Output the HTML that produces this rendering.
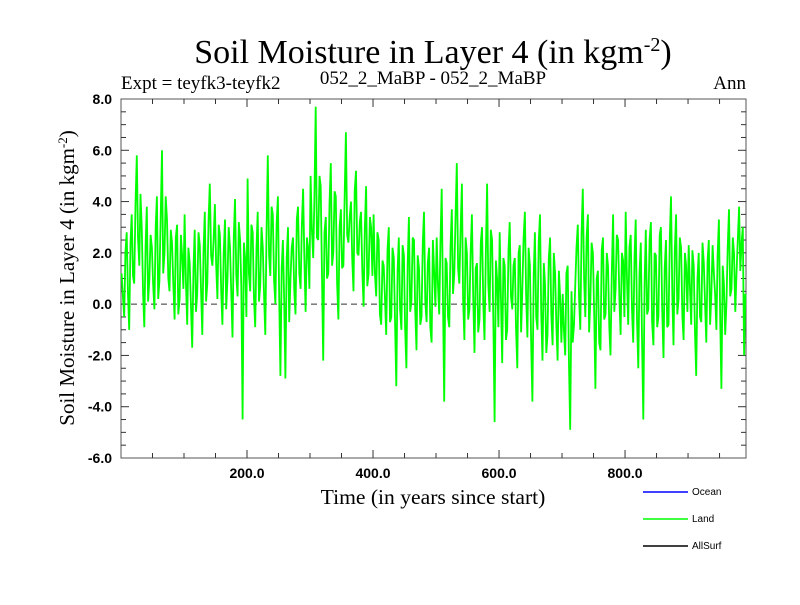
<!DOCTYPE html>
<html><head><meta charset="utf-8"><style>
body{margin:0;background:#fff}
svg text{font-family:"Liberation Serif",serif}
.tl{font-family:"Liberation Sans",sans-serif;font-weight:bold}
</style></head><body>
<svg id="chart" width="800" height="600" xmlns="http://www.w3.org/2000/svg">
<rect width="800" height="600" fill="#fff"/>
<text x="433" y="63" font-size="34" text-anchor="middle">Soil Moisture in Layer 4 (in kgm<tspan dy="-12" font-size="20">-2</tspan><tspan dy="12">)</tspan></text>
<text x="121" y="89" font-size="19">Expt = teyfk3-teyfk2</text>
<text x="433" y="84" font-size="19" text-anchor="middle">052_2_MaBP - 052_2_MaBP</text>
<text x="746" y="89" font-size="19" text-anchor="end">Ann</text>
<text x="433" y="504" font-size="21.6" text-anchor="middle">Time (in years since start)</text>
<text transform="translate(74,278) rotate(-90)" font-size="21" text-anchor="middle">Soil Moisture in Layer 4 (in kgm<tspan dy="-7" font-size="13">-2</tspan><tspan dy="7">)</tspan></text>
<g id="ticks"></g>
<g id="plot"></g>
<g font-size="10">
<line x1="643" y1="492" x2="688" y2="492" stroke="#0000ff" stroke-width="1.5"/>
<text x="692" y="495" style="font-family:'Liberation Sans',sans-serif">Ocean</text>
<line x1="643" y1="519" x2="688" y2="519" stroke="#00ff00" stroke-width="1.5"/>
<text x="692" y="522" style="font-family:'Liberation Sans',sans-serif">Land</text>
<line x1="643" y1="546" x2="688" y2="546" stroke="#000" stroke-width="1.5"/>
<text x="692" y="549" style="font-family:'Liberation Sans',sans-serif">AllSurf</text>
</g>
</svg>
<script>
const startYear = 1;
const yearStep = 4;
// values at years 1,5,9,...
const landValues = [
1.2,-0.5,2.8,-1.0,3.5,0.8,5.8,1.5,2.9,-0.9,3.8,1.0,2.2,-0.2,4.2,0.9,6.0,2.0,3.3,0.5,2.4,-0.6,3.1,0.2,1.9,
3.5,-0.8,1.6,-1.7,2.9,0.4,2.3,-1.2,3.6,0.8,4.7,1.5,3.9,0.2,2.7,-0.8,3.3,1.0,2.2,-1.3,4.1,0.3,2.5,-4.5,1.8,
4.9,0.5,2.8,-0.9,3.6,0.7,2.2,-1.2,5.8,1.1,3.5,0.0,4.2,-2.8,2.5,-2.9,3.0,1.0,2.6,-0.4,3.8,0.6,4.5,-0.3,2.2,
5.0,1.8,7.7,2.5,4.6,-2.2,3.4,1.2,5.5,2.0,4.2,-0.6,3.7,1.5,6.7,2.4,4.0,0.5,5.2,1.9,3.6,-0.1,4.6,1.2,3.0,
3.5,0.3,2.5,-0.8,1.5,-1.2,3.0,-0.5,1.8,-3.2,2.6,-1.0,1.9,-2.5,3.4,0.1,2.5,-1.8,1.4,-0.5,3.6,-0.7,2.2,-1.5,1.3,
2.6,-0.4,4.5,-3.8,1.6,-0.9,3.7,1.2,5.5,0.8,4.7,-1.4,2.0,-0.2,3.5,-1.9,1.6,-0.6,3.0,-1.4,4.7,-0.3,2.5,-4.6,1.0,
2.8,-2.3,1.5,-1.0,3.2,-0.2,1.8,-2.5,2.3,0.5,3.6,-1.3,1.5,-3.8,2.8,-1.0,3.5,-2.2,0.8,-1.2,2.6,-1.6,1.2,-2.2,0.3,
0.4,-2.0,1.5,-4.9,-1.5,0.8,3.1,-1.0,4.5,-0.5,3.5,0.2,2.0,-3.3,1.3,-1.8,2.6,-0.4,1.5,-2.0,3.5,0.6,2.5,-1.2,1.7,
3.6,-0.8,2.7,-1.5,3.3,-2.5,2.4,-4.5,2.9,-0.2,3.2,-1.6,1.9,-0.5,3.0,-2.1,2.5,-0.8,4.2,-1.6,3.5,0.2,2.2,-1.4,1.5,
2.3,-0.8,1.5,-2.8,2.0,-0.7,1.6,-1.5,2.5,0.3,1.2,-1.0,3.3,-3.3,0.8,0.1,3.7,0.6,2.0,1.2,3.8,2.4,-2.0
];
// values at the in-between years 3,7,11,...
const landValuesMid = [
0.3,2.0,0.5,2.4,1.1,3.9,2.6,4.3,0.4,2.3,0.1,2.7,0.8,3.0,0.2,3.4,1.2,4.2,1.0,2.9,0.8,2.6,-0.4,2.7,0.6,
0.9,2.2,0.0,1.4,-0.3,2.8,0.6,2.0,0.1,3.3,1.9,2.5,1.6,3.1,0.5,2.0,-0.2,3.0,0.4,2.6,1.1,3.2,0.7,2.4,-0.5,
1.2,3.1,0.3,2.2,0.1,3.0,0.4,2.7,1.9,3.8,0.9,3.1,0.5,1.4,0.1,1.8,-0.7,2.2,0.5,3.3,1.2,3.0,1.9,2.6,0.6,
2.9,4.1,2.6,5.0,1.1,2.8,1.0,3.9,1.5,4.4,0.8,3.0,1.4,4.3,2.7,3.4,1.8,4.4,2.0,3.2,1.3,2.9,0.7,3.4,1.1,
1.2,2.8,-0.4,1.7,0.2,2.1,-0.7,2.2,-0.8,1.3,-0.2,2.3,-0.9,1.6,-0.3,2.6,-0.2,1.9,-0.8,2.4,0.1,1.6,-0.9,2.5,-0.1,
0.8,2.3,0.1,1.8,-0.5,2.2,0.4,3.5,1.4,2.9,0.2,2.6,-0.6,2.1,0.3,1.4,-1.1,2.4,0.0,1.9,0.8,2.9,-0.8,1.7,-0.9,
0.3,1.8,-1.4,2.1,0.3,1.5,-0.9,2.0,-1.1,2.6,0.4,2.2,-1.6,1.1,-0.5,2.4,-0.3,1.6,-1.9,1.8,-0.4,2.0,-0.9,1.3,-1.5,
-1.0,1.2,-2.4,0.5,-0.8,2.2,0.3,2.8,1.0,2.6,-1.1,2.4,-0.4,1.0,-1.5,2.1,-0.6,2.0,-0.9,1.2,-0.3,2.7,0.2,2.0,-0.5,
1.1,2.2,-0.2,1.8,-0.6,1.2,-1.3,0.8,-0.4,2.5,-0.7,2.0,-0.9,2.7,-0.2,1.4,-0.9,2.6,0.4,2.1,-0.4,2.6,-0.5,2.0,-0.3,
0.7,2.1,-1.1,1.0,-0.5,2.4,0.1,1.7,-0.8,2.3,0.4,1.9,-0.6,1.5,-1.2,2.2,0.3,2.6,-0.3,2.5,1.3,3.0,0.4
];
const xTickValues = [200,400,600,800];
const xTickLabels = ["200.0","400.0","600.0","800.0"];
const yTickValues = [-6,-4,-2,0,2,4,6,8];
const yTickLabels = ["-6.0","-4.0","-2.0","0.0","2.0","4.0","6.0","8.0"];

const L=121,R=746,T=99,B=458, X0=0, X1=992, Y0=-6, Y1=8;
const sx=v=>L+(v-X0)/(X1-X0)*(R-L);
const sy=v=>B-(v-Y0)/(Y1-Y0)*(B-T);
const NS="http://www.w3.org/2000/svg";
function mk(tag,attrs,parent){const e=document.createElementNS(NS,tag);for(const k in attrs)e.setAttribute(k,attrs[k]);parent.appendChild(e);return e;}
const tk=document.getElementById('ticks'), pl=document.getElementById('plot');

let z=mk('line',{x1:L,x2:R,y1:sy(0),y2:sy(0),stroke:'#333','stroke-dasharray':'6,4','stroke-width':1},pl);



const pts=[];
landValues.forEach((v,i)=>{
  pts.push([startYear+i*yearStep,v]);
  if(i<landValuesMid.length) pts.push([startYear+2+i*yearStep,landValuesMid[i]]);
});
let d='';
pts.forEach((p,i)=>{d+=(i?'L':'M')+sx(p[0]).toFixed(1)+','+sy(p[1]).toFixed(1);});
let p=mk('path',{d:d,fill:'none',stroke:'#00ff00','stroke-width':1.8,'stroke-linejoin':'miter'},pl);



let f=mk('rect',{x:L,y:T,width:R-L,height:B-T,fill:'none',stroke:'#555','stroke-width':1},tk);



for(let v=50;v<X1;v+=50){
  const len=(v%200===0)?8:5;
  mk('line',{x1:sx(v),x2:sx(v),y1:B,y2:B-len,stroke:'#333'},tk);
  mk('line',{x1:sx(v),x2:sx(v),y1:T,y2:T+len,stroke:'#333'},tk);
}
for(let v=Y0+0.5;v<Y1;v+=0.5){
  const len=(Math.abs(v%2)<1e-6)?8:5;
  mk('line',{x1:L,x2:L+len,y1:sy(v),y2:sy(v),stroke:'#333'},tk);
  mk('line',{x1:R,x2:R-len,y1:sy(v),y2:sy(v),stroke:'#333'},tk);
}
xTickValues.forEach((v,i)=>{
  const t=mk('text',{x:sx(v),y:B+20,'font-size':14,'text-anchor':'middle','class':'tl'},tk);
  t.textContent=xTickLabels[i];
  
  
});
yTickValues.forEach((v,i)=>{
  const t=mk('text',{x:L-9,y:sy(v)+5,'font-size':14,'text-anchor':'end','class':'tl'},tk);
  t.textContent=yTickLabels[i];
  
  
});
</script>
</body></html>
